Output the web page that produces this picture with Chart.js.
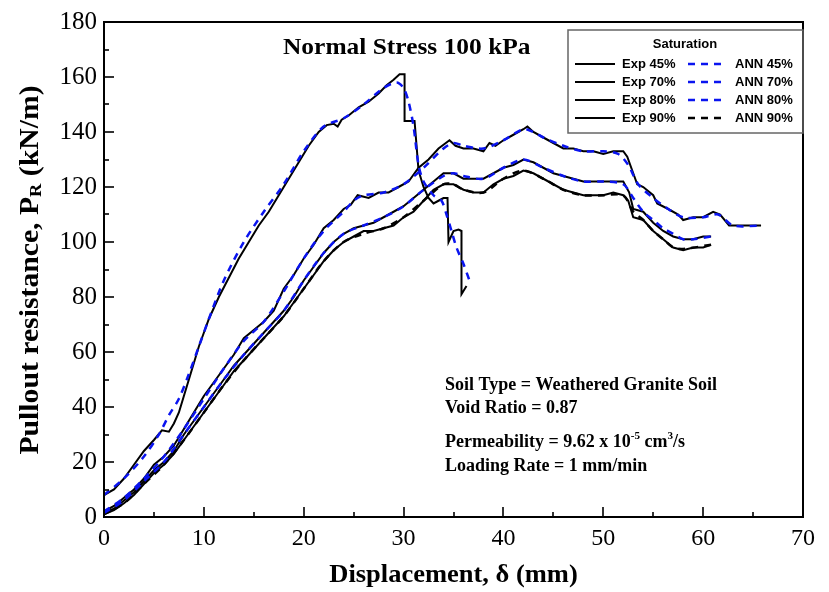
<!DOCTYPE html>
<html>
<head>
<meta charset="utf-8">
<script src="https://cdn.jsdelivr.net/npm/chart.js@4.4.1/dist/chart.umd.min.js"></script>
<style>
  html, body { margin: 0; padding: 0; background: #fff; }
  canvas { display: block; }
</style>
</head>
<body>
<canvas id="chart" width="829" height="592"></canvas>
<script>
// Pullout resistance vs displacement

// Exp 45%
const exp45X = [0, 1, 2, 3, 4, 5, 5.8, 6.5, 7, 7.5, 8, 8.5, 9, 9.5, 10, 10.5, 11.5, 12.5, 13.5, 14.5, 15.5, 16.5, 17.5, 18.5, 19.5, 20.5, 21.5, 22.3, 23, 23.4, 23.8, 24.5, 25.5, 26.5, 27.5, 28.3, 29, 29.6, 30.1, 30.1, 31.1, 31.3, 31.5, 32, 32.5, 33, 33.5, 34, 34.4, 34.5, 35, 35.5, 35.8, 35.8, 36.3];
const exp45Y = [8, 10, 14, 19, 24, 28, 31.5, 31, 34, 38, 44, 50, 56, 62, 67, 72, 80, 87, 94, 100, 106, 111, 117, 123, 129, 135, 140, 142.5, 143, 142, 144.5, 146, 149, 151, 154, 157, 159, 161, 161, 144, 144, 135, 126, 120, 116, 114, 115, 116, 116, 100, 104, 104.5, 104, 81, 84];
// ANN 45%
const ann45X = [0, 2, 4, 5.5, 6.5, 7.5, 8.5, 9.5, 10.5, 12, 14, 16, 18, 20, 22, 24, 26, 28, 29.3, 30, 30.5, 31, 31.5, 32, 33, 33.8, 34.3, 34.8, 35.3, 36, 36.6];
const ann45Y = [8, 14, 22, 30, 37, 43, 52, 62, 72, 86, 100, 111, 121, 133, 142, 145, 150, 156, 158, 156, 151, 142, 128, 122, 117, 115, 110, 104, 98, 92, 86];

// Exp 70%
const exp70X = [0, 1, 2, 3, 4, 5, 6, 7, 8, 9, 10, 11, 12, 13, 14, 15, 16, 17, 18, 19, 20, 21, 22, 23, 24, 24.7, 25.4, 26.5, 27.5, 28.5, 29.5, 30.5, 31.5, 32.5, 33.5, 34.6, 35.2, 36, 37, 38, 38.6, 39.2, 40, 41, 42, 42.4, 43, 44, 45, 46, 47, 48, 49, 50, 51, 52, 52.4, 53, 53.4, 54, 55, 55.4, 56.5, 57.5, 58, 59, 60, 61, 61.7, 62.6, 63.5, 64.5, 65.8];
const exp70Y = [2, 4, 7, 10, 14, 19, 22, 26, 32, 38, 44, 49, 54, 59, 65, 68, 71, 75, 83, 88, 94, 99, 105, 108, 112, 113.5, 117, 116, 118, 118, 120, 122, 127, 130, 134, 137, 135, 134, 134, 133, 136, 135, 137, 139, 141, 142, 140, 138, 136, 134, 134, 133, 133, 132, 133, 133, 131, 125, 121, 120, 117, 114, 112, 110, 108, 109, 109, 111, 110, 106, 106, 106, 106];
// ANN 70%
const ann70X = [0, 2, 4, 6, 8, 10, 12, 14, 16, 18, 20, 22, 24, 25, 26, 28, 30, 32, 34, 35, 36, 38, 40, 42, 43, 44, 46, 48, 50, 51.5, 52.5, 53.5, 55, 56.5, 58, 60, 61.5, 63, 65.9];
const ann70Y = [2, 7, 14, 22, 32, 43, 54, 64, 71, 82, 94, 104, 111, 115, 117, 118, 121, 127, 134, 136, 135, 134, 137, 141, 140, 138, 135, 133, 133, 132, 128, 121, 116, 112, 109, 109, 110, 106, 106];

// Exp 80%
const exp80X = [0, 1, 2, 3, 4, 5, 6, 7, 8, 9, 10, 11, 12, 13, 14, 15, 16, 17, 18, 19, 20, 21, 22, 23, 24, 25, 26, 27, 28, 29, 30, 31, 32, 33, 34, 35, 36, 37, 38, 39, 40, 41, 42, 43, 44, 45, 46, 47, 48, 49, 50, 51, 52, 52.6, 53, 54, 55, 56, 57, 58, 59, 60, 60.8];
const exp80Y = [1.5, 3, 6, 9, 13, 17, 20, 24, 30, 35, 40, 45, 50, 55, 59, 63, 67, 71, 75, 80, 86, 91, 96, 100, 103, 105, 106, 107, 109, 111, 113, 116, 119, 122, 125, 125, 123, 123, 123, 125, 127, 128, 130, 129, 127, 125, 124, 123, 122, 122, 122, 122, 122, 118, 112, 111, 107, 104, 102, 101, 101, 102, 102];
// ANN 80%
const ann80X = [0, 2, 4, 6, 8, 10, 12, 14, 16, 18, 20, 22, 24, 26, 28, 30, 32, 34, 35, 36, 38, 40, 42, 44, 46, 48, 50, 52, 53, 54, 55, 56, 57, 58, 59, 60.8];
const ann80Y = [1.5, 6, 13, 20, 30, 40, 50, 59, 67, 75, 86, 96, 103, 106, 109, 113, 119, 124, 125, 124, 123, 127, 130, 127, 124, 122, 122, 121, 116, 111, 108, 105, 103, 101, 101, 102];

// Exp 90%
const exp90X = [0, 1, 2, 3, 4, 5, 6, 7, 8, 9, 10, 11, 12, 13, 14, 15, 16, 17, 18, 19, 20, 21, 22, 23, 24, 25, 26, 27, 28, 29, 30, 31, 32, 33, 34, 35, 36, 37, 38, 39, 40, 41, 42, 43, 44, 45, 46, 47, 48, 49, 50, 51, 52, 52.5, 53, 54, 55, 56, 57, 58, 59, 60, 60.8];
const exp90Y = [1, 2.5, 5, 8, 12, 16, 19, 23, 28, 33, 38, 43, 48, 53, 57, 61, 65, 69, 73, 78, 83, 88, 93, 97, 100, 102, 104, 104, 105, 106, 109, 111, 115, 119, 121, 121, 119, 118, 118, 121, 123, 124, 126, 125, 123, 121, 119, 118, 117, 117, 117, 118, 117, 115, 109, 108, 104, 101, 98, 97, 98, 98, 99];
// ANN 90%
const ann90X = [0, 2, 4, 6, 8, 10, 12, 14, 16, 18, 20, 22, 24, 26, 28, 30, 32, 34, 35, 36, 38, 40, 42, 44, 46, 48, 50, 52, 53, 54, 55, 56, 57, 58, 60.8];
const ann90Y = [1, 5, 12, 19, 28, 38, 48, 57, 65, 73, 83, 93, 100, 103, 105, 109, 115, 121, 121, 119, 118, 123, 126, 123, 119, 117, 117, 117, 111, 108, 104, 101, 98, 97.5, 99];

const xTicks = { min: 0, max: 70, step: 10 };
const yTicks = { min: 0, max: 180, step: 20 };

const SERIF = "'Liberation Serif', 'Times New Roman', serif";
const SANS = "'Liberation Sans', Arial, sans-serif";
const BLUE = '#0a14f0';

function pts(xs, ys) {
    return xs.map((x, i) => ({ x: x, y: ys[i] }));
}

function expSet(label, xs, ys) {
    return { label: label, data: pts(xs, ys), borderColor: '#000', borderWidth: 2, pointRadius: 0, tension: 0, fill: false, order: 1, kind: 'exp' };
}
function annSet(label, xs, ys, color) {
    return { label: label, data: pts(xs, ys), borderColor: color, borderWidth: 2.5, borderDash: [7, 6], pointRadius: 0, tension: 0.3, fill: false, order: 0, kind: 'ann' };
}

const datasets = [
    expSet('Exp 45%', exp45X, exp45Y),
    expSet('Exp 70%', exp70X, exp70Y),
    expSet('Exp 80%', exp80X, exp80Y),
    expSet('Exp 90%', exp90X, exp90Y),
    annSet('ANN 45%', ann45X, ann45Y, BLUE),
    annSet('ANN 70%', ann70X, ann70Y, BLUE),
    annSet('ANN 80%', ann80X, ann80Y, BLUE),
    annSet('ANN 90%', ann90X, ann90Y, '#000')
];

// text with super/subscripts, drawn piece by piece
function richText(ctx, parts, x, y, size) {
    let cx = x;
    parts.forEach(p => {
        const s = p.small ? size * 0.62 : size;
        ctx.font = 'bold ' + s + 'px ' + SERIF;
        const dy = p.sup ? -size * 0.32 : (p.sub ? size * 0.22 : 0);
        ctx.fillText(p.t, cx, y + dy);
        cx += ctx.measureText(p.t).width;
    });
    return cx - x;
}

// text stretched a little sideways, like the reference
function wideText(ctx, txt, x, y, sx) {
    ctx.save();
    ctx.translate(x, y);
    ctx.scale(sx, 1);
    ctx.fillText(txt, 0, 0);
    ctx.restore();
}

const decor = {
    id: 'decor',
    afterDraw(chart) {
        const ctx = chart.ctx;
        const a = chart.chartArea;
        const xs = chart.scales.x, ys = chart.scales.y;
        ctx.save();

        // frame
        ctx.strokeStyle = '#000';
        ctx.lineWidth = 2;
        ctx.strokeRect(a.left, a.top, a.right - a.left, a.bottom - a.top);

        // inward ticks
        ctx.lineWidth = 1.6;
        for (let v = xTicks.min; v <= xTicks.max; v += 5) {
            const px = Math.round(xs.getPixelForValue(v));
            const len = v % 10 === 0 ? 10 : 5;
            ctx.beginPath(); ctx.moveTo(px, a.bottom); ctx.lineTo(px, a.bottom - len); ctx.stroke();
        }
        for (let v = yTicks.min; v <= yTicks.max; v += 10) {
            const py = Math.round(ys.getPixelForValue(v));
            const len = v % 20 === 0 ? 10 : 5;
            ctx.beginPath(); ctx.moveTo(a.left, py); ctx.lineTo(a.left + len, py); ctx.stroke();
        }

        ctx.fillStyle = '#000';
        ctx.textBaseline = 'middle';

        // x title
        ctx.font = 'bold 25px ' + SERIF;
        ctx.textAlign = 'center';
        wideText(ctx, 'Displacement, \u03b4 (mm)', (a.left + a.right) / 2, 576, 1.06);

        // y title with subscript
        ctx.save();
        ctx.translate(31, 270);
        ctx.rotate(-Math.PI / 2);
        ctx.scale(1.1, 1);
        ctx.textAlign = 'left';
        const yParts = [{ t: 'Pullout resistance, P' }, { t: 'R', small: true, sub: true }, { t: ' (kN/m)' }];
        ctx.globalAlpha = 0;
        const w = richText(ctx, yParts, 0, 0, 27);
        ctx.globalAlpha = 1;
        richText(ctx, yParts, -w / 2, 0, 27);
        ctx.restore();

        // chart title
        ctx.textAlign = 'left';
        ctx.font = 'bold 24px ' + SERIF;
        wideText(ctx, 'Normal Stress 100 kPa', 283, 48, 1.06);

        // soil info
        const fs = 18;
        ctx.font = 'bold ' + fs + 'px ' + SERIF;
        ctx.fillText('Soil Type = Weathered Granite Soil', 445, 385);
        ctx.fillText('Void Ratio = 0.87', 445, 408);
        richText(ctx, [{ t: 'Permeability = 9.62 x 10' }, { t: '-5', small: true, sup: true }, { t: ' cm' }, { t: '3', small: true, sup: true }, { t: '/s' }], 445, 442, fs);
        ctx.font = 'bold ' + fs + 'px ' + SERIF;
        ctx.fillText('Loading Rate = 1 mm/min', 445, 466);

        // legend box
        ctx.strokeStyle = '#666';
        ctx.lineWidth = 1.5;
        ctx.strokeRect(568, 30, 235, 103);
        ctx.font = 'bold 13px ' + SANS;
        ctx.textAlign = 'center';
        ctx.fillText('Saturation', 685, 44);
        ctx.textAlign = 'left';
        const exps = chart.data.datasets.filter(d => d.kind === 'exp');
        const anns = chart.data.datasets.filter(d => d.kind === 'ann');
        const rowY = [64, 82, 100, 118];
        exps.forEach((d, i) => {
            const y = rowY[i];
            ctx.strokeStyle = d.borderColor;
            ctx.lineWidth = 2;
            ctx.setLineDash([]);
            ctx.beginPath(); ctx.moveTo(575, y); ctx.lineTo(615, y); ctx.stroke();
            ctx.fillText(d.label, 622, y);
            const n = anns[i];
            ctx.strokeStyle = n.borderColor;
            ctx.lineWidth = 2.5;
            ctx.setLineDash([7, 6]);
            ctx.beginPath(); ctx.moveTo(688, y); ctx.lineTo(726, y); ctx.stroke();
            ctx.setLineDash([]);
            ctx.fillText(n.label, 735, y);
        });

        ctx.restore();
    }
};

new Chart(document.getElementById('chart').getContext('2d'), {
    type: 'line',
    data: { datasets: datasets },
    options: {
        responsive: false,
        animation: false,
        devicePixelRatio: 1,
        layout: { padding: { top: 20, right: 26, left: 0, bottom: 0 } },
        scales: {
            x: {
                type: 'linear',
                min: xTicks.min, max: xTicks.max,
                ticks: { stepSize: xTicks.step, color: '#000', font: { family: SERIF, size: 24 }, padding: 7, maxRotation: 0 },
                grid: { display: false, drawTicks: false },
                border: { display: false },
                afterFit: s => { s.height = 75; }
            },
            y: {
                type: 'linear',
                min: yTicks.min, max: yTicks.max,
                ticks: { stepSize: yTicks.step, color: '#000', font: { family: SERIF, size: 25 }, padding: 7 },
                grid: { display: false, drawTicks: false },
                border: { display: false },
                afterFit: s => { s.width = 104; }
            }
        },
        plugins: {
            legend: { display: false },
            tooltip: { enabled: false }
        }
    },
    plugins: [decor]
});
</script>
</body>
</html>
